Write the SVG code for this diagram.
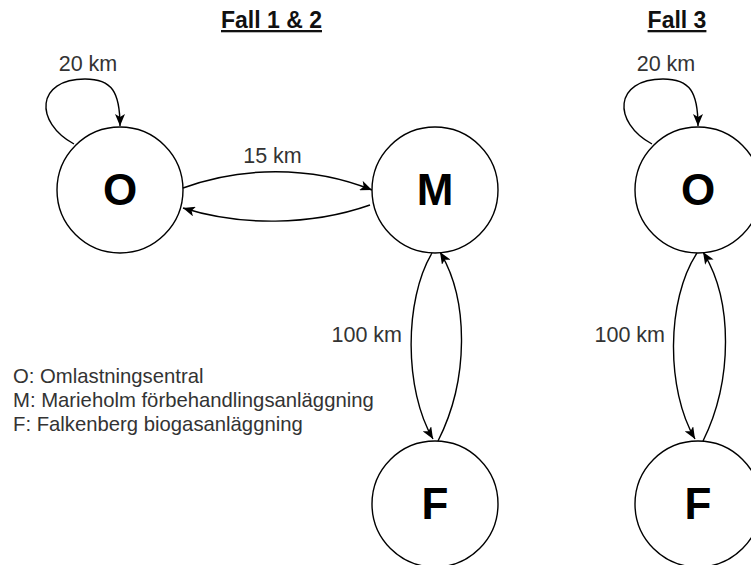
<svg xmlns="http://www.w3.org/2000/svg" width="751" height="565" viewBox="0 0 751 565">
<style>
.node circle{fill:#fff;stroke:#000;stroke-width:1.4}
.node text{font-family:"Liberation Sans",Arial,sans-serif;font-weight:bold;font-size:44px;fill:#000;text-anchor:middle}
.edge{fill:none;stroke:#000;stroke-width:1.4;marker-end:url(#arrow)}
.lbl{font-family:"Liberation Sans",Arial,sans-serif;font-size:21.5px;fill:#333}
.title{font-family:"Liberation Sans",Arial,sans-serif;font-size:23px;font-weight:bold;fill:#111;text-anchor:middle;text-decoration:underline}
.legend{font-family:"Liberation Sans",Arial,sans-serif;font-size:20.3px;fill:#333}
</style>
<defs>
<marker id="arrow" markerUnits="userSpaceOnUse" viewBox="0 0 12 10" markerWidth="12" markerHeight="10" refX="12" refY="5" orient="auto">
<path d="M0,0 L12,5 L0,10 L3,5 Z" fill="#000"/>
</marker>
</defs>
<rect width="751" height="565" fill="#fff"/>
<text class="title" x="271.5" y="28">Fall 1 &amp; 2</text>
<text class="title" x="677" y="28">Fall 3</text>
<g id="connectors">
<path class="edge" d="M74,144 C34,122 36,79 85,79 C112,79 120,92 120,126"/>
<path class="edge" d="M183,188 C240,167 310,165 372,190"/>
<path class="edge" d="M370,205 C310,226 240,226 183,208"/>
<path class="edge" d="M432,253 C404,300 404,390 433,439"/>
<path class="edge" d="M438,441 C469,380 469,300 440,252"/>
<path class="edge" d="M652,144 C612,122 614,79 663,79 C690,79 698,92 698,126"/>
<path class="edge" d="M697,253 C666,300 666,390 695,439"/>
<path class="edge" d="M703,441 C733,380 733,300 703,252"/>
</g>
<g id="labels">
<text class="lbl" x="88" y="70.5" text-anchor="middle">20 km</text>
<text class="lbl" x="272.5" y="163" text-anchor="middle">15 km</text>
<text class="lbl" x="402" y="342" text-anchor="end">100 km</text>
<text class="lbl" x="666" y="70.5" text-anchor="middle">20 km</text>
<text class="lbl" x="665" y="342" text-anchor="end">100 km</text>
</g>
<g id="node-O1" class="node"><circle cx="120" cy="190" r="63"/><text x="120" y="205">O</text></g>
<g id="node-M" class="node"><circle cx="435" cy="190" r="63"/><text x="435" y="205">M</text></g>
<g id="node-F1" class="node"><circle cx="435" cy="504" r="63"/><text x="435" y="519">F</text></g>
<g id="node-O3" class="node"><circle cx="698" cy="190" r="63"/><text x="698" y="205">O</text></g>
<g id="node-F3" class="node"><circle cx="698" cy="504" r="63"/><text x="698" y="519">F</text></g>
<g id="legend">
<text class="legend" x="13" y="382.7">O: Omlastningsentral</text>
<text class="legend" x="13" y="406.7">M: Marieholm förbehandlingsanläggning</text>
<text class="legend" x="13" y="431">F: Falkenberg biogasanläggning</text>
</g>
</svg>
